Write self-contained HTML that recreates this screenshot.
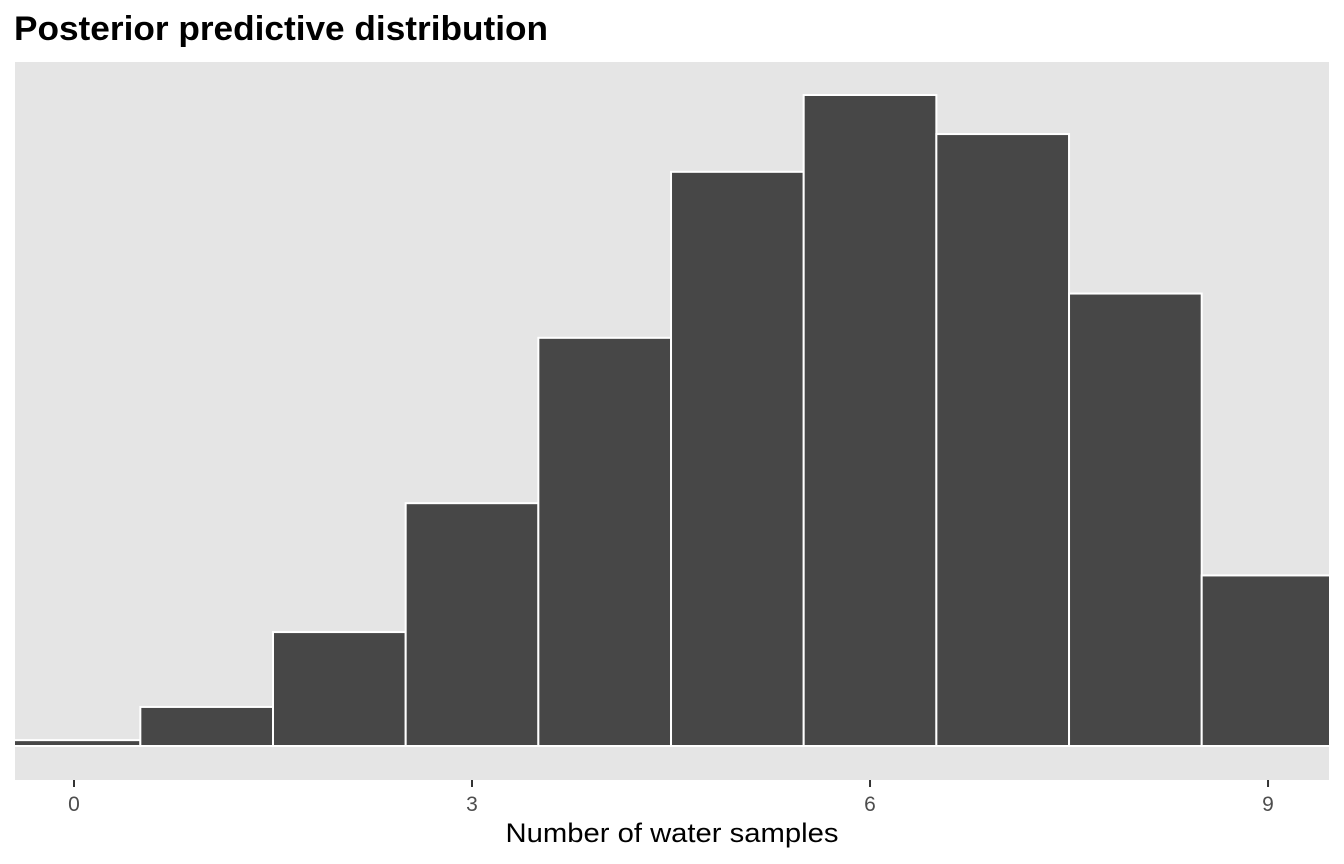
<!DOCTYPE html>
<html><head><meta charset="utf-8"><style>
body{margin:0;background:#fff;}
svg{display:block;font-family:"Liberation Sans",Arial,sans-serif;}
</style></head><body>
<svg id="chart" width="1344" height="864">
<text x="14" y="40" font-size="34" font-weight="bold" fill="#000" textLength="534" lengthAdjust="spacingAndGlyphs">Posterior predictive distribution</text>
<defs><clipPath id="pc"><rect x="15" y="62" width="1314" height="718"/></clipPath></defs>
<rect x="15" y="62" width="1314" height="718" fill="#e5e5e5"/>
<g id="bars" clip-path="url(#pc)"></g>
<g id="xaxis"></g>
<text x="672" y="842" font-size="27" text-anchor="middle" fill="#000" textLength="333" lengthAdjust="spacingAndGlyphs">Number of water samples</text>
</svg>
<script>
const categories = [0,1,2,3,4,5,6,7,8,9];
const counts = [9, 60, 175, 373, 627, 882, 1000, 940, 695, 262];
const xTicks = [0,3,6,9];
const NS='http://www.w3.org/2000/svg';
const x = v => 74 + (v)*132.67;
const maxC = Math.max(...counts);
const baseY = 746, topY = 95;
const y = v => baseY - v/maxC*(baseY-topY);
const gb = document.getElementById('bars');
categories.forEach((c,i)=>{
  const r=document.createElementNS(NS,'rect');
  r.setAttribute('x',x(c-0.5)); r.setAttribute('width',x(c+0.5)-x(c-0.5));
  r.setAttribute('y',y(counts[i])); r.setAttribute('height',baseY-y(counts[i]));
  r.setAttribute('fill','#474747'); r.setAttribute('stroke','#fff'); r.setAttribute('stroke-width','2');
  
  
  gb.appendChild(r);
});
const gx=document.getElementById('xaxis');
xTicks.forEach(t=>{
  const l=document.createElementNS(NS,'line');
  l.setAttribute('x1',x(t));l.setAttribute('x2',x(t));l.setAttribute('y1',780);l.setAttribute('y2',787);
  l.setAttribute('stroke','#333');l.setAttribute('stroke-width','2');
  
  
  gx.appendChild(l);
  const tx=document.createElementNS(NS,'text');
  tx.setAttribute('x',x(t));tx.setAttribute('y',811);tx.setAttribute('text-anchor','middle');
  tx.setAttribute('font-size','21');tx.setAttribute('fill','#4d4d4d');tx.textContent=t;
  
  
  gx.appendChild(tx);
});
</script>
</body></html>
